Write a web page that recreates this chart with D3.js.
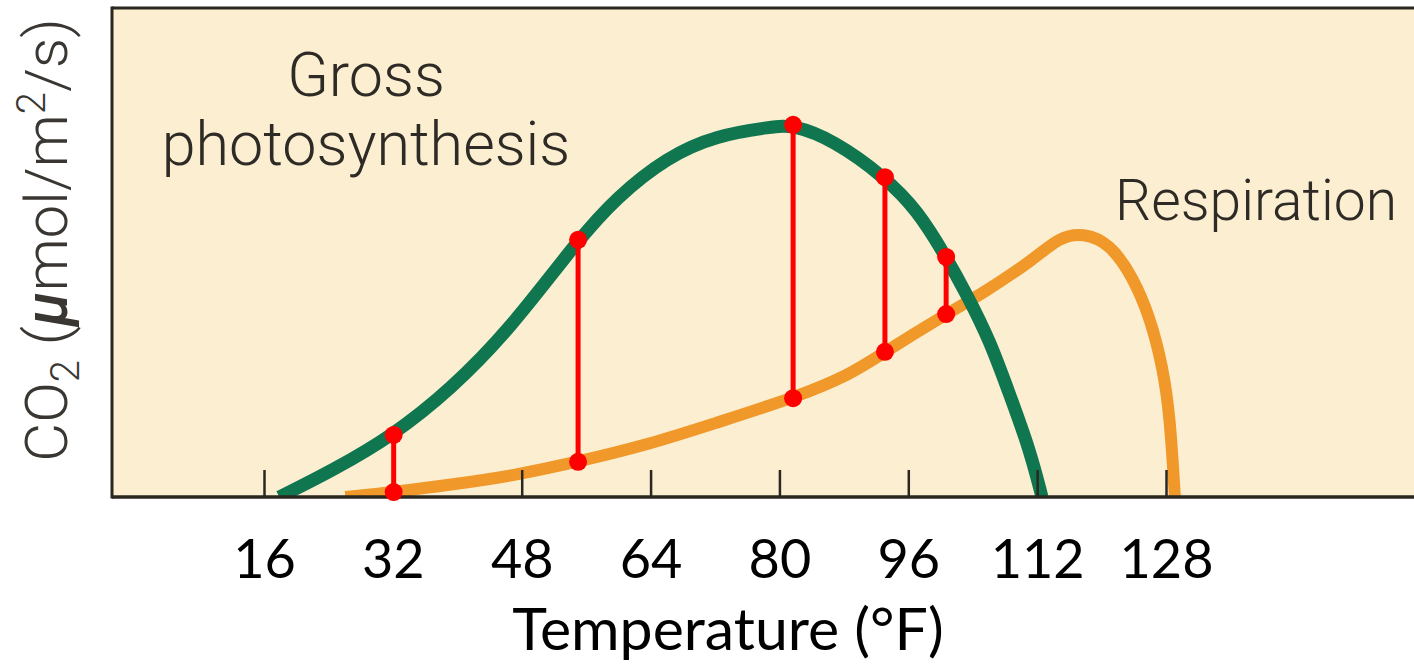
<!DOCTYPE html>
<html>
<head>
<meta charset="utf-8">
<script src="https://cdn.jsdelivr.net/npm/d3@7"></script>
<style>
    body { margin: 0; background: #fff; }
    svg { display: block; }
</style>
</head>
<body>
<div id="chart"></div>
<script>
// tick labels on the temperature axis (°F)
var tickTemps = [16, 32, 48, 64, 80, 96, 112, 128];

// gross photosynthesis curve (temp °F, relative CO2 rate)
var grossTemp = [17.9, 24.6, 32.1, 39.1, 46.5, 55.0, 59.8, 66.0, 72.2, 79.1, 81.7, 86.7, 93.1, 97.1, 100.7, 103.3, 106.1, 108.6, 111.1, 112.6];
var grossRate = [0, 5.5, 12.7, 21.9, 34.2, 52.6, 61.3, 69.5, 74.0, 75.7, 76.1, 73.0, 65.4, 58.7, 49.1, 41.3, 32.1, 20.9, 9.6, 0];

// respiration curve
var respTemp = [26.1, 32.1, 39.1, 46.8, 55.0, 63.9, 72.2, 81.7, 88.8, 93.1, 100.7, 105.3, 111.5, 114.8, 117.7, 121.0, 123.9, 126.0, 127.6, 128.5, 129.1];
var respRate = [0, 1.0, 2.5, 4.3, 7.2, 10.8, 15.2, 20.2, 25.0, 29.7, 37.4, 41.7, 48.5, 53.2, 54.0, 51.9, 45.0, 36.8, 26.6, 16.4, 0];

// red bars: net photosynthesis gap between the two curves
var gapTemp = [32.1, 55.0, 81.7, 93.1, 100.7];
var gapTop = [12.7, 52.6, 76.1, 65.4, 49.1];
var gapBottom = [1.0, 7.2, 20.2, 29.7, 37.4];

var width = 1414, height = 665;
var plot = {left: 112, top: 8, right: 1414, bottom: 497};

var x = d3.scaleLinear().domain([16, 128]).range([264, 1166]);
var y = d3.scaleLinear().domain([0, 100]).range([plot.bottom, plot.top]);

var svg = d3.select("#chart").append("svg")
    .attr("width", width)
    .attr("height", height);

svg.append("defs").append("clipPath")
    .attr("id", "plot-clip")
    .append("rect")
    .attr("x", plot.left)
    .attr("y", plot.top)
    .attr("width", plot.right - plot.left)
    .attr("height", plot.bottom - plot.top);

// beige panel
svg.append("rect")
    .attr("x", plot.left)
    .attr("y", plot.top)
    .attr("width", plot.right - plot.left)
    .attr("height", plot.bottom - plot.top)
    .style("fill", "#fcefd1");

// b-spline smooths out the small reading errors in the traced points
var line = d3.line()
    .x(function (d) { return x(d[0]); })
    .y(function (d) { return y(d[1]); })
    .curve(d3.curveBasis);

var curves = svg.append("g").attr("clip-path", "url(#plot-clip)");

curves.append("path")
    .datum(d3.zip(respTemp, respRate))
    .attr("d", line)
    .style("fill", "none")
    .style("stroke", "#f0982a")
    .style("stroke-width", 12);

curves.append("path")
    .datum(d3.zip(grossTemp, grossRate))
    .attr("d", line)
    .style("fill", "none")
    .style("stroke", "#0f7650")
    .style("stroke-width", 13);

// frame: left side, top and the temperature axis
var frameColor = "#2a2620";
svg.append("line")
    .attr("x1", plot.left).attr("x2", plot.right)
    .attr("y1", plot.top).attr("y2", plot.top)
    .style("stroke", frameColor).style("stroke-width", 3);
svg.append("line")
    .attr("x1", plot.left).attr("x2", plot.left)
    .attr("y1", plot.top - 1.5).attr("y2", plot.bottom + 1.5)
    .style("stroke", frameColor).style("stroke-width", 3);

var xAxis = d3.axisBottom(x)
    .tickValues(tickTemps)
    .tickSizeInner(-27)
    .tickSizeOuter(0)
    .tickPadding(46);

var gx = svg.append("g")
    .attr("transform", "translate(0," + plot.bottom + ")")
    .call(xAxis);

gx.select(".domain").remove();
gx.insert("line", ":first-child")
    .attr("x1", plot.left).attr("x2", plot.right)
    .style("stroke", frameColor).style("stroke-width", 3.5);
gx.selectAll(".tick line")
    .style("stroke", frameColor)
    .style("stroke-width", 2.5);
gx.selectAll(".tick text")
    .attr("dy", 0)
    .attr("y", 81)
    .style("font-family", "Lato, 'Open Sans', sans-serif")
    .style("font-size", "54px")
    .style("fill", "#000");

svg.append("text")
    .attr("x", 728)
    .attr("y", 650)
    .attr("text-anchor", "middle")
    .style("font-family", "Lato, 'Open Sans', sans-serif")
    .style("font-size", "59px")
    .style("fill", "#000")
    .text("Temperature (°F)");

// y axis title
var yTitle = svg.append("text")
    .attr("transform", "translate(67,240) rotate(-90)")
    .attr("text-anchor", "middle")
    .style("font-family", "Roboto, 'Liberation Sans', sans-serif")
    .style("font-weight", 300)
    .style("font-size", "60px")
    .style("fill", "#3a3632");
yTitle.append("tspan").text("CO");
yTitle.append("tspan").attr("dy", 12).style("font-size", "40px").text("2");
yTitle.append("tspan").attr("dy", -12).text(" (");
yTitle.append("tspan").style("font-style", "italic").style("font-weight", 500).text("µ");
yTitle.append("tspan").text("mol/m");
yTitle.append("tspan").attr("dy", -22).style("font-size", "40px").text("2");
yTitle.append("tspan").attr("dy", 22).text("/s)");

// curve labels
var labelStyle = function (sel, size) {
    sel.attr("text-anchor", "middle")
        .style("font-family", "Roboto, 'Liberation Sans', sans-serif")
        .style("font-weight", 300)
        .style("font-size", size + "px")
        .style("fill", "#2e2a26");
};
svg.append("text").attr("x", 366).attr("y", 96).call(labelStyle, 61).text("Gross");
svg.append("text").attr("x", 366).attr("y", 165).call(labelStyle, 61).text("photosynthesis");
svg.append("text").attr("x", 1256).attr("y", 220).call(labelStyle, 57).text("Respiration");

// red gap markers
var gaps = svg.append("g").selectAll("g")
    .data(d3.zip(gapTemp, gapTop, gapBottom))
    .enter()
    .append("g");

gaps.append("line")
    .attr("x1", function (d) { return x(d[0]); })
    .attr("x2", function (d) { return x(d[0]); })
    .attr("y1", function (d) { return y(d[1]); })
    .attr("y2", function (d) { return y(d[2]); })
    .style("stroke", "#ff0000")
    .style("stroke-width", 5);

gaps.selectAll("circle")
    .data(function (d) { return [[d[0], d[1]], [d[0], d[2]]]; })
    .enter()
    .append("circle")
    .attr("cx", function (d) { return x(d[0]); })
    .attr("cy", function (d) { return y(d[1]); })
    .attr("r", 9)
    .style("fill", "#ff0000");
</script>
</body>
</html>
